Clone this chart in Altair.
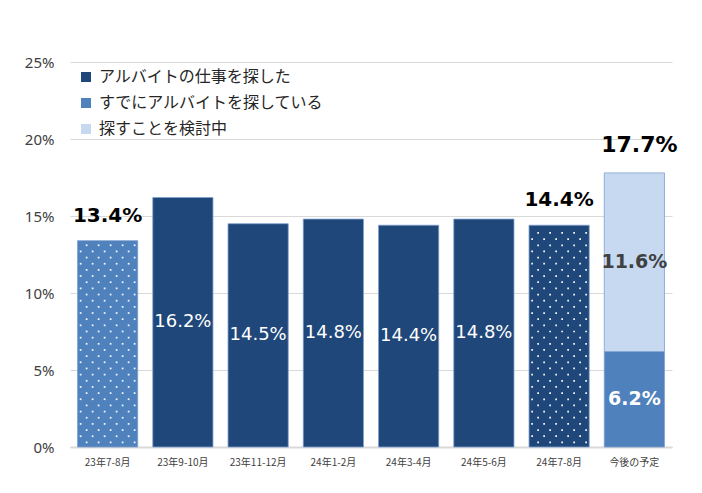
import altair as alt
import pandas as pd

categories = ["23年7-8月", "23年9-10月", "23年11-12月", "24年1-2月",
              "24年3-4月", "24年5-6月", "24年7-8月", "今後の予定"]
series_names = ["アルバイトの仕事を探した", "すでにアルバイトを探している", "探すことを検討中"]
searched = [13.4, 16.2, 14.5, 14.8, 14.4, 14.8, 14.4, 0.0]
already_searching = [0.0, 0.0, 0.0, 0.0, 0.0, 0.0, 0.0, 6.2]
considering = [0.0, 0.0, 0.0, 0.0, 0.0, 0.0, 0.0, 11.6]
total_categories = ["23年7-8月", "24年7-8月", "今後の予定"]
total_values = [13.4, 14.4, 17.7]
dotted_categories = ["23年7-8月", "24年7-8月"]

NAVY = "#1F4779"
MID = "#4F81BD"
LIGHT = "#C6D9F1"
colors = [NAVY, MID, LIGHT]

rows = []
for i, c in enumerate(categories):
    lo = 0.0
    for k, (s, vals) in enumerate(zip(series_names, [searched, already_searching, considering])):
        v = vals[i]
        if v > 0:
            rows.append(dict(category=c, series=s, order=k, value=v, lo=lo, hi=lo + v,
                             mid=lo + v / 2, label=f"{v:.1f}%"))
            lo += v
df = pd.DataFrame(rows)

tops = df.groupby("category", sort=False)["hi"].max()
tot = pd.DataFrame(dict(category=total_categories,
                        top=[tops[c] for c in total_categories],
                        label=[f"{v:.1f}%" for v in total_values]))

# dot texture for patterned bars (derived from bar heights)
dots = []
for c in dotted_categories:
    h = tops[c]
    r = 0
    y = 0.3
    while y < h - 0.15:
        offs = [-21, -9, 3, 15, 27] if r % 2 == 0 else [-27, -15, -3, 9, 21]
        for o in offs:
            dots.append(dict(category=c, y=y, dx=o))
        r += 1
        y += 0.4
dots = pd.DataFrame(dots)

xenc = alt.X("category:N", sort=categories,
             scale=alt.Scale(paddingInner=0.2, paddingOuter=0.1),
             axis=alt.Axis(title=None, labelAngle=0, ticks=False, domain=True,
                           domainColor="#d9d9d9", domainWidth=2, labelPadding=10,
                           labelFont="Noto Sans CJK JP", labelFontSize=10,
                           labelColor="#404040", grid=False))
yscale = alt.Scale(domain=[0, 25])

bars = alt.Chart(df).mark_bar(stroke="#7f9fcf", strokeWidth=0.8).encode(
    x=xenc,
    y=alt.Y("lo:Q", scale=yscale,
            axis=alt.Axis(title=None, values=[0, 5, 10, 15, 20, 25],
                          labelExpr="datum.value + '%'", domain=False, ticks=False,
                          gridColor="#d9d9d9", gridWidth=1, labelPadding=16,
                          labelFont="Noto Sans", labelFontSize=15, labelColor="#404040")),
    y2="hi:Q",
    color=alt.condition(
        "datum.category === '23年7-8月'",
        alt.value(MID),
        alt.Color("series:N", scale=alt.Scale(domain=series_names, range=colors),
                  legend=alt.Legend(title=None, orient="none", legendX=8, legendY=7,
                                    padding=0, symbolType="square", symbolSize=100,
                                    symbolStrokeWidth=0, labelFont="Noto Sans CJK JP",
                                    labelFontSize=16, labelColor="#262626",
                                    labelLimit=0, rowPadding=10, labelOffset=5)),
    ),
)

dot_layers = []
for o in sorted(dots["dx"].unique()):
    dot_layers.append(
        alt.Chart(dots).transform_filter(f"datum.dx == {o}")
        .mark_square(size=3, color="white", opacity=0.95, xOffset=int(o))
        .encode(x=alt.X("category:N", sort=categories), y=alt.Y("y:Q", scale=yscale))
    )

inner_navy = alt.Chart(df).transform_filter(
    "datum.series === 'アルバイトの仕事を探した' && datum.category !== '23年7-8月' && datum.category !== '24年7-8月'"
).mark_text(font="DejaVu Sans", fontSize=18, color="white", baseline="middle").encode(
    x=alt.X("category:N", sort=categories), y=alt.Y("mid:Q", scale=yscale), text="label:N")

inner_mid = alt.Chart(df).transform_filter(
    "datum.series === 'すでにアルバイトを探している'"
).mark_text(font="DejaVu Sans", fontSize=19, fontWeight="bold", color="white",
            baseline="middle").encode(
    x=alt.X("category:N", sort=categories), y=alt.Y("mid:Q", scale=yscale), text="label:N")

inner_light = alt.Chart(df).transform_filter(
    "datum.series === '探すことを検討中'"
).mark_text(font="DejaVu Sans", fontSize=19, fontWeight="bold", color="#404040",
            baseline="middle").encode(
    x=alt.X("category:N", sort=categories), y=alt.Y("mid:Q", scale=yscale), text="label:N")

top_small = alt.Chart(tot).transform_filter("datum.category !== '今後の予定'").mark_text(
    font="DejaVu Sans", fontSize=20, fontWeight="bold", color="black",
    baseline="alphabetic", dy=-19).encode(
    x=alt.X("category:N", sort=categories), y=alt.Y("top:Q", scale=yscale), text="label:N")

top_big = alt.Chart(tot).transform_filter("datum.category === '今後の予定'").mark_text(
    font="DejaVu Sans", fontSize=22, fontWeight="bold", color="black",
    baseline="alphabetic", dy=-21, dx=5).encode(
    x=alt.X("category:N", sort=categories), y=alt.Y("top:Q", scale=yscale), text="label:N")

chart = alt.layer(bars, *dot_layers, inner_navy, inner_mid, inner_light, top_small, top_big).properties(
    width=602, height=385,
    autosize=alt.AutoSizeParams(type="none"),
    padding={"left": 62, "top": 54, "right": 14, "bottom": 30},
).configure_view(stroke=None)

chart.save("out.html", embed_options={"renderer": "svg", "actions": False})
